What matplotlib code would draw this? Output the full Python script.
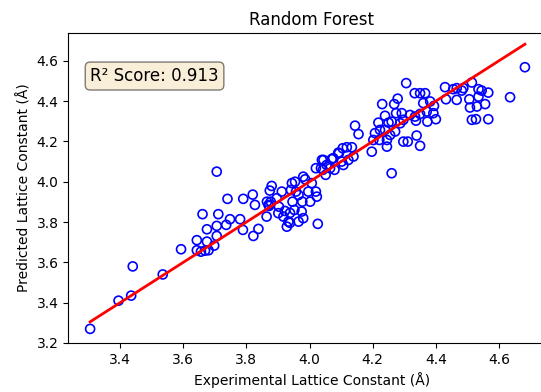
import numpy as np
import matplotlib
matplotlib.use('Agg')
import matplotlib.pyplot as plt

# experimental vs predicted lattice constants
experimental = [
    3.305, 3.395, 3.435, 3.44, 3.535, 3.593, 3.643, 3.656, 3.669, 3.68,
    3.675, 3.698, 3.706, 3.675, 3.661, 3.711, 3.706, 3.736, 3.74, 3.748,
    3.78, 3.789, 3.79, 3.82, 3.827, 3.822, 3.838, 3.864, 3.87, 3.706,
    3.643, 3.872, 3.874, 3.88, 3.877, 3.896, 3.903, 3.912, 3.917, 3.922,
    3.928, 3.933, 3.944, 3.946, 3.952, 3.957, 3.965, 3.975, 3.965, 3.98,
    3.98, 3.986, 3.977, 3.996, 4.002, 4.007, 4.02, 4.026, 4.02, 4.039,
    4.023, 4.036, 4.054, 4.07, 4.051, 4.079, 4.093, 4.102,
    4.306, 4.23, 4.268, 4.279, 4.333, 4.35, 4.366, 4.429, 4.466, 4.466,
    4.432, 4.382, 4.36, 4.394, 4.371, 4.392, 4.4, 4.373, 4.35, 4.334,
    4.318, 4.337, 4.292, 4.274, 4.297, 4.287, 4.239, 4.25, 4.218, 4.26,
    4.271, 4.239, 4.223, 4.207, 4.255, 4.245, 4.221, 4.297, 4.311, 4.339,
    4.35, 4.245, 4.202, 4.197, 4.144, 4.155, 4.26, 4.134, 4.118, 4.105,
    4.139, 4.123, 4.091, 4.075, 4.107, 4.044, 4.065, 4.042,
    4.682, 4.635, 4.455, 4.482, 4.514, 4.535, 4.545, 4.566, 4.506, 4.535,
    4.508, 4.53, 4.556, 4.514, 4.527, 4.566, 4.487,
    3.938, 3.938, 3.901, 3.941, 3.865, 3.954,
]
predicted = [
    3.27, 3.41, 3.435, 3.58, 3.54, 3.665, 3.71, 3.653, 3.658, 3.66,
    3.703, 3.683, 3.731, 3.764, 3.839, 3.839, 3.781, 3.786, 3.915, 3.814,
    3.814, 3.761, 3.915, 3.936, 3.885, 3.731, 3.766, 3.827, 3.885, 4.05,
    3.66, 3.88, 3.956, 3.979, 3.901, 3.918, 3.876, 3.951, 3.827, 3.855,
    3.777, 3.802, 3.993, 3.901, 3.86, 3.951, 3.934, 3.852, 3.802, 3.819,
    4.025, 4.012, 3.901, 3.951, 3.901, 3.993, 3.951, 3.791, 4.067, 4.108,
    3.926, 4.067, 4.083, 4.112, 4.034, 4.059, 4.141, 4.1,
    4.489, 4.385, 4.385, 4.412, 4.439, 4.439, 4.439, 4.469, 4.464, 4.406,
    4.409, 4.398, 4.39, 4.376, 4.348, 4.34, 4.31, 4.298, 4.336, 4.323,
    4.331, 4.303, 4.34, 4.34, 4.307, 4.29, 4.327, 4.293, 4.293, 4.298,
    4.249, 4.257, 4.257, 4.241, 4.232, 4.207, 4.207, 4.199, 4.199, 4.229,
    4.178, 4.174, 4.207, 4.149, 4.278, 4.236, 4.042, 4.171, 4.171, 4.166,
    4.125, 4.108, 4.144, 4.117, 4.083, 4.108, 4.067, 4.059,
    4.568, 4.419, 4.459, 4.452, 4.492, 4.459, 4.452, 4.442, 4.409, 4.422,
    4.368, 4.373, 4.385, 4.307, 4.31, 4.31, 4.464,
    3.845, 3.796, 3.844, 3.959, 3.901, 4.0,
]
r2_score = 0.913

y_test = np.array(experimental)
y_pred = np.array(predicted)

# axes run past the right edge of the picture, as in the reference crop
fig = plt.figure(figsize=(5.41, 3.92), dpi=100)
ax = fig.add_axes([0.1263, 0.125, 0.9, 0.791])

ax.scatter(y_test, y_pred, s=42, facecolors='none', edgecolors='b', linewidths=1.2)
lims = [y_test.min(), y_test.max()]
ax.plot(lims, lims, color='r', lw=2)

ax.set_xlim(3.236, 4.778)
ax.set_ylim(3.2, 4.738)
ax.set_xticks([3.4, 3.6, 3.8, 4.0, 4.2, 4.4, 4.6])
ax.set_yticks([3.2, 3.4, 3.6, 3.8, 4.0, 4.2, 4.4, 4.6])

ax.set_xlabel('Experimental Lattice Constant (Å)')
ax.set_ylabel('Predicted Lattice Constant (Å)')
ax.set_title('Random Forest')

ax.text(0.045, 0.89, f'R² Score: {r2_score:.3f}', transform=ax.transAxes,
        fontsize=12, verticalalignment='top',
        bbox=dict(boxstyle='round', facecolor='wheat', alpha=0.5))

fig.savefig('out.png', dpi=100)
